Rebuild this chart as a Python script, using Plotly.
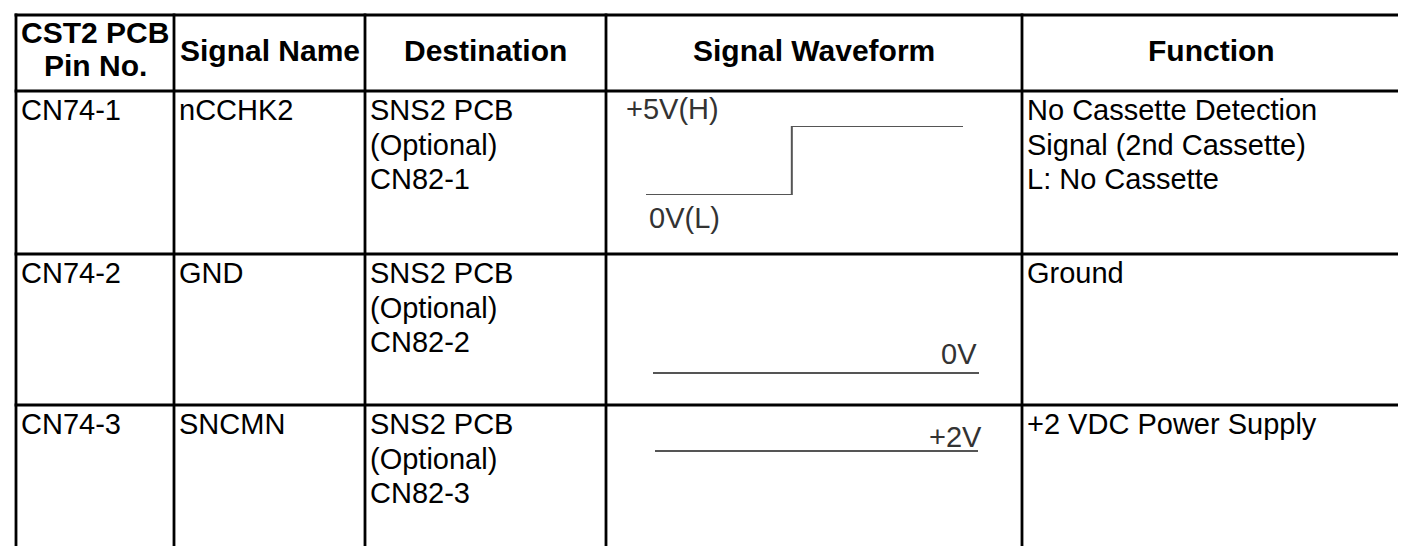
import plotly.graph_objects as go

# ---------------- data ----------------
headers = ["CST2 PCB", "Signal Name", "Destination", "Signal Waveform", "Function"]
header_second_line = ["Pin No.", "", "", "", ""]
pins = ["CN74-1", "CN74-2", "CN74-3"]
signals = ["nCCHK2", "GND", "SNCMN"]
destinations = [
    ["SNS2 PCB", "(Optional)", "CN82-1"],
    ["SNS2 PCB", "(Optional)", "CN82-2"],
    ["SNS2 PCB", "(Optional)", "CN82-3"],
]
functions = [
    ["No Cassette Detection", "Signal (2nd Cassette)", "L: No Cassette"],
    ["Ground"],
    ["+2 VDC Power Supply"],
]
# waveforms (normalised time, volts)
wave_t = [[0, 0.46, 0.46, 1], [0, 1], [0, 1]]
wave_v = [[0, 0, 5, 5], [0, 0], [2, 2]]
wave_labels = [["+5V(H)", "0V(L)"], ["0V"], ["+2V"]]

# ---------------- layout geometry (pixels) ----------------
W, H = 1406, 546
col_edges = [8, 166, 357, 598, 1014, 1392]
row_edges = [7, 83, 246, 397]
BODY_FONT = "Liberation Sans, Arial, sans-serif"
body_size = 29
head_size = 30
line_gap = 34.5
first_off = 19

fig = go.Figure()

def px_x(p):
    return p / W

def px_y(p):
    return 1 - p / H

# grid lines
shapes = []
lw = 2.8
for x in col_edges:
    shapes.append(dict(type="line", xref="x", yref="y", x0=x, x1=x, y0=row_edges[0] - lw / 2, y1=H + 10,
                       line=dict(color="black", width=lw)))
for y in row_edges:
    shapes.append(dict(type="line", xref="x", yref="y", x0=col_edges[0] - lw / 2, x1=col_edges[-1] + lw / 2,
                       y0=y, y1=y, line=dict(color="black", width=lw)))

annotations = []

def add_text(text, x, y, size, bold=False, xanchor="left", color="black"):
    annotations.append(dict(
        text=f"<b>{text}</b>" if bold else text, x=x, y=y, xref="x", yref="y",
        xanchor=xanchor, yanchor="middle", showarrow=False,
        font=dict(family=BODY_FONT, size=size, color=color)))

# headers
for i, (h1, h2) in enumerate(zip(headers, header_second_line)):
    cx = (col_edges[i] + col_edges[i + 1]) / 2
    if h2:
        add_text(h1, cx, 24, head_size, True, "center")
        add_text(h2, cx, 57, head_size, True, "center")
    else:
        add_text(h1, cx, 42, head_size, True, "center")

pad = 3
for r in range(3):
    top = row_edges[r + 1]
    y0 = top + first_off
    add_text(pins[r], col_edges[0] + pad, y0, body_size)
    add_text(signals[r], col_edges[1] + pad, y0, body_size)
    for k, line in enumerate(destinations[r]):
        add_text(line, col_edges[2] + pad, y0 + k * line_gap, body_size)
    for k, line in enumerate(functions[r]):
        add_text(line, col_edges[4] + pad, y0 + k * line_gap, body_size)

# waveform labels
wcol = "#333333"
add_text(wave_labels[0][0], 616, 101, body_size, color=wcol)
add_text(wave_labels[0][1], 639, 210, body_size, color=wcol)
add_text(wave_labels[1][0], 971, 346, body_size, xanchor="right", color=wcol)
add_text(wave_labels[2][0], 976, 429, body_size, xanchor="right", color=wcol)

# waveform axes: (x_left_px, x_right_px, y_px_for_vlow, y_px_for_vhigh, vlow, vhigh)
wave_boxes = [
    (638, 955, 187, 118, 0, 5),
    (645, 971, 375, 355, -1, 1),
    (647, 970, 453, 433, 1, 3),
]
layout_axes = {}
for i, (xl, xr, ylo, yhi, vlo, vhi) in enumerate(wave_boxes):
    n = i + 2
    fig.add_trace(go.Scatter(
        x=wave_t[i], y=wave_v[i], mode="lines", xaxis=f"x{n}", yaxis=f"y{n}",
        line=dict(color="#555555", width=2), hoverinfo="skip", showlegend=False))
    layout_axes[f"xaxis{n}"] = dict(domain=[px_x(xl), px_x(xr)], range=[0, 1], visible=False,
                                    anchor=f"y{n}", fixedrange=True)
    layout_axes[f"yaxis{n}"] = dict(domain=[px_y(ylo), px_y(yhi)], range=[vlo, vhi], visible=False,
                                    anchor=f"x{n}", fixedrange=True)

# invisible trace to establish the main pixel axes
fig.add_trace(go.Scatter(x=[0, W], y=[0, H], mode="markers", marker=dict(opacity=0),
                         hoverinfo="skip", showlegend=False))

fig.update_layout(
    width=W, height=H, margin=dict(l=0, r=0, t=0, b=0),
    paper_bgcolor="white", plot_bgcolor="white",
    xaxis=dict(range=[0, W], visible=False, domain=[0, 1], fixedrange=True),
    yaxis=dict(range=[H, 0], visible=False, domain=[0, 1], fixedrange=True),
    shapes=shapes, annotations=annotations, showlegend=False,
    **layout_axes,
)

fig.write_html("out.html")
